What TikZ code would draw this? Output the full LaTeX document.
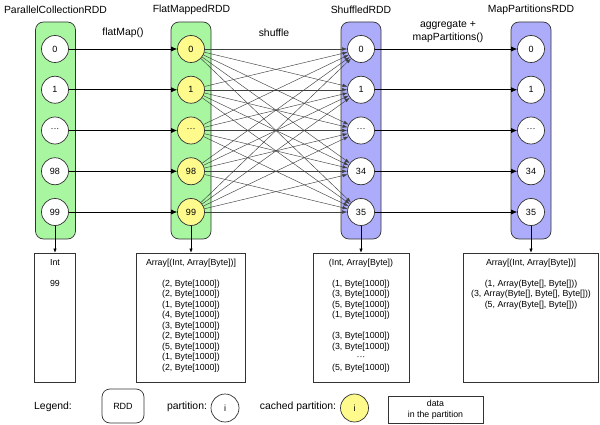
\documentclass[tikz,border=0pt]{standalone}
\usepackage{fontspec}
\setmainfont{Liberation Sans}
\usepackage{xcolor}
\usepackage{tikz}
\usetikzlibrary{arrows.meta}
\definecolor{rddgreen}{RGB}{168,246,160}
\definecolor{rddblue}{RGB}{172,172,250}
\definecolor{cacheyellow}{RGB}{255,250,140}
\tikzstyle{partition node}=[fill=white, draw=black!80, shape=circle, minimum size=27pt, inner sep=0pt, line width=0.7pt, font=\fontsize{9}{10}\selectfont]
\tikzstyle{cached node}=[partition node, fill=cacheyellow]
\tikzstyle{rdd box}=[draw=black!80, rounded corners=8pt, minimum width=40pt, minimum height=217pt, line width=0.7pt]
\tikzstyle{green rdd}=[rdd box, fill=rddgreen]
\tikzstyle{blue rdd}=[rdd box, fill=rddblue]
\tikzstyle{data box}=[draw=black!80, line width=0.7pt, inner sep=0pt, minimum height=129pt]
\tikzstyle{caption}=[font=\fontsize{10.4}{12.5}\selectfont, align=center, inner sep=0pt]
\tikzstyle{data text}=[font=\fontsize{8.8}{10.5}\selectfont, align=center, inner sep=0pt, anchor=north]
\tikzstyle{arrow edge}=[-{Latex[length=6pt,width=5pt]}, draw=black, line width=0.6pt]
\tikzstyle{shuffle edge}=[-{Latex[length=5pt,width=3.5pt]}, draw=black!75, line width=0.45pt]
\pgfdeclarelayer{boxlayer}
\pgfdeclarelayer{nodelayer}
\pgfdeclarelayer{edgelayer}
\pgfsetlayers{boxlayer,edgelayer,nodelayer,main}

\begin{document}
\begin{tikzpicture}[x=1pt, y=-1pt]
	\useasboundingbox (0, 0) rectangle (600, 425);
	\begin{pgfonlayer}{boxlayer}
		\node [style=green rdd] (20) at (55.5, 130.5) {};
		\node [style=green rdd] (21) at (191, 130.5) {};
		\node [style=blue rdd] (22) at (361, 130.5) {};
		\node [style=blue rdd] (23) at (531, 130.5) {};
		\node [style=data box, minimum width=41pt] (24) at (55, 317.5) {};
		\node [style=data box, minimum width=109pt] (25) at (191, 317.5) {};
		\node [style=data box, minimum width=96pt] (26) at (361, 317.5) {};
		\node [style=data box, minimum width=135pt] (27) at (531, 317.5) {};
	\end{pgfonlayer}
	\begin{pgfonlayer}{nodelayer}
		% ParallelCollectionRDD
		\node [style=partition node] (0) at (55, 49) {0};
		\node [style=partition node] (1) at (55, 89.75) {1};
		\node [style=partition node] (2) at (55, 130.5) {···};
		\node [style=partition node] (3) at (55, 171.25) {98};
		\node [style=partition node] (4) at (55, 212) {99};
		% FlatMappedRDD
		\node [style=cached node] (5) at (191, 49) {0};
		\node [style=cached node] (6) at (191, 89.75) {1};
		\node [style=cached node] (7) at (191, 130.5) {···};
		\node [style=cached node] (8) at (191, 171.25) {98};
		\node [style=cached node] (9) at (191, 212) {99};
		% ShuffledRDD
		\node [style=partition node] (10) at (361, 49) {0};
		\node [style=partition node] (11) at (361, 89.75) {1};
		\node [style=partition node] (12) at (361, 130.5) {···};
		\node [style=partition node] (13) at (361, 171.25) {34};
		\node [style=partition node] (14) at (361, 212) {35};
		% MapPartitionsRDD
		\node [style=partition node] (15) at (531, 49) {0};
		\node [style=partition node] (16) at (531, 89.75) {1};
		\node [style=partition node] (17) at (531, 130.5) {···};
		\node [style=partition node] (18) at (531, 171.25) {34};
		\node [style=partition node] (19) at (531, 212) {35};
		% titles
		\node [style=caption] (30) at (55.5, 10) {ParallelCollectionRDD};
		\node [style=caption] (31) at (191.5, 10) {FlatMappedRDD};
		\node [style=caption] (32) at (361, 10) {ShuffledRDD};
		\node [style=caption] (33) at (531, 10) {MapPartitionsRDD};
		\node [style=caption] (34) at (123, 33) {flatMap()};
		\node [style=caption] (35) at (274, 33) {shuffle};
		\node [style=caption] (36) at (448, 31.5) {aggregate +\\mapPartitions()};
		% data
		\node [style=data text] (40) at (55, 258.8) {Int\\ \\99};
		\node [style=data text] (41) at (191, 258.8) {Array[(Int, Array[Byte])]\\ \\(2, Byte[1000])\\(2, Byte[1000])\\(1, Byte[1000])\\(4, Byte[1000])\\(3, Byte[1000])\\(2, Byte[1000])\\(5, Byte[1000])\\(1, Byte[1000])\\(2, Byte[1000])};
		\node [style=data text] (42) at (361, 258.8) {(Int, Array[Byte])\\ \\(1, Byte[1000])\\(3, Byte[1000])\\(5, Byte[1000])\\(1, Byte[1000])\\ \\(3, Byte[1000])\\(3, Byte[1000])\\···\\(5, Byte[1000])};
		\node [style=data text] (43) at (531, 258.8) {Array[(Int, Array[Byte])]\\ \\(1, Array(Byte[], Byte[]))\\(3, Array(Byte[], Byte[], Byte[]))\\(5, Array(Byte[], Byte[]))};
		% legend
		\node [style=caption] (50) at (53, 407) {Legend:};
		\node [style=rdd box, minimum width=42pt, minimum height=34pt, font=\fontsize{9}{10}\selectfont] (51) at (123, 406) {RDD};
		\node [style=caption] (52) at (187, 407) {partition:};
		\node [style=partition node, minimum size=28pt] (53) at (225, 408) {i};
		\node [style=caption] (54) at (298, 407) {cached partition:};
		\node [style=cached node, minimum size=28pt] (55) at (354.5, 408) {i};
		\node [style=data box, minimum width=95pt, minimum height=27pt, font=\fontsize{8.8}{10.5}\selectfont, align=center] (56) at (435.5, 409.5) {data\\in the partition};
	\end{pgfonlayer}
	\begin{pgfonlayer}{edgelayer}
		\draw [style=arrow edge] (0) to (5);
		\draw [style=arrow edge] (1) to (6);
		\draw [style=arrow edge] (2) to (7);
		\draw [style=arrow edge] (3) to (8);
		\draw [style=arrow edge] (4) to (9);
		\draw [style=shuffle edge] (5) to (10);
		\draw [style=shuffle edge] (5) to (11);
		\draw [style=shuffle edge] (5) to (12);
		\draw [style=shuffle edge] (5) to (13);
		\draw [style=shuffle edge] (5) to (14);
		\draw [style=shuffle edge] (6) to (10);
		\draw [style=shuffle edge] (6) to (11);
		\draw [style=shuffle edge] (6) to (12);
		\draw [style=shuffle edge] (6) to (13);
		\draw [style=shuffle edge] (6) to (14);
		\draw [style=shuffle edge] (7) to (10);
		\draw [style=shuffle edge] (7) to (11);
		\draw [style=shuffle edge] (7) to (12);
		\draw [style=shuffle edge] (7) to (13);
		\draw [style=shuffle edge] (7) to (14);
		\draw [style=shuffle edge] (8) to (10);
		\draw [style=shuffle edge] (8) to (11);
		\draw [style=shuffle edge] (8) to (12);
		\draw [style=shuffle edge] (8) to (13);
		\draw [style=shuffle edge] (8) to (14);
		\draw [style=shuffle edge] (9) to (10);
		\draw [style=shuffle edge] (9) to (11);
		\draw [style=shuffle edge] (9) to (12);
		\draw [style=shuffle edge] (9) to (13);
		\draw [style=shuffle edge] (9) to (14);
		\draw [style=arrow edge] (10) to (15);
		\draw [style=arrow edge] (11) to (16);
		\draw [style=arrow edge] (12) to (17);
		\draw [style=arrow edge] (13) to (18);
		\draw [style=arrow edge] (14) to (19);
		\draw [style=arrow edge, -{Latex[length=4pt,width=3.5pt]}] (4) to (24);
		\draw [style=arrow edge, -{Latex[length=4pt,width=3.5pt]}] (9) to (25);
		\draw [style=arrow edge, -{Latex[length=4pt,width=3.5pt]}] (14) to (26);
		\draw [style=arrow edge, -{Latex[length=4pt,width=3.5pt]}] (19) to (27);
	\end{pgfonlayer}
\end{tikzpicture}
\end{document}
